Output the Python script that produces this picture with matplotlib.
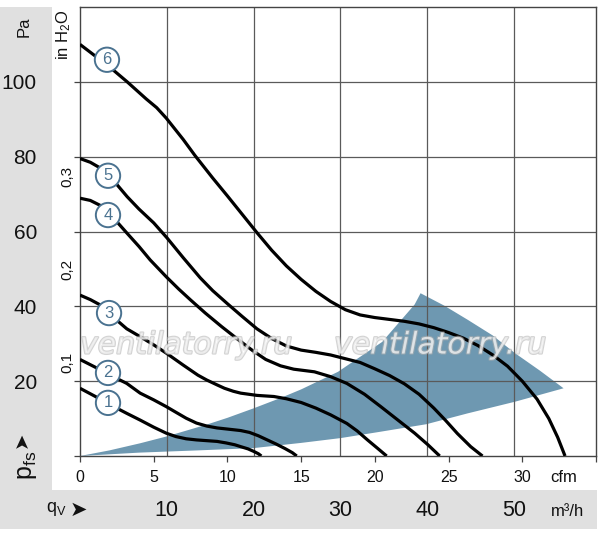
import matplotlib
matplotlib.use('Agg')
import matplotlib.pyplot as plt
from matplotlib import font_manager as fm
import matplotlib.patheffects as pe
import matplotlib.transforms as mtrans
from matplotlib.patches import Rectangle

# ---------------- data ----------------
# pressure curves: q in cfm, p in Pa
c1_q = [0, 1, 2, 3.17, 4.08, 5, 5.85, 6.5, 7.2, 7.9, 8.6, 9.3, 9.9, 10.5, 10.9, 11.4, 11.8, 12.1, 12.3]
c1_p = [18.1, 16, 13.8, 11.4, 9.6, 7.7, 6.1, 5.2, 4.6, 4.3, 4.1, 3.9, 3.5, 3.0, 2.5, 1.9, 1.2, 0.6, 0]

c2_q = [0, 1, 2, 3.17, 4.08, 5, 5.85, 6.5, 7.2, 7.9, 8.6, 9.3, 10, 10.9, 11.5, 12.1, 12.7, 13.3,
        13.9, 14.4, 14.7]
c2_p = [25.8, 23.8, 21.7, 19.4, 16.8, 15, 13.2, 11.7, 10.1, 8.8, 8.0, 7.5, 7.2, 6.8, 6.3, 5.4,
        4.3, 3.2, 2.0, 0.9, 0]

c3_q = [0, 0.7, 1.36, 2.2, 3.17, 4.08, 5, 5.85, 7, 8, 8.6, 9.3, 9.8, 10.4, 10.9, 12, 13.15, 14,
        15, 16, 17, 18.1, 18.8, 19.5, 20.2, 20.8]
c3_p = [43, 41.8, 40.4, 37.3, 34, 31.9, 29.7, 27.5, 24.3, 21.6, 20.3, 19.0, 18.1, 17.3, 16.8,
        16.2, 15.9, 15.3, 14.3, 12.8, 11, 8.7, 6.7, 4.3, 2, 0]

c4_q = [0, 0.7, 1.36, 2.3, 3.2, 4, 4.76, 5.85, 6.7, 7.5, 8.5, 9.6, 10.7, 11.7, 12.6, 13.6,
        14.5, 15.9, 17, 18.1, 19.3, 20.4, 21.5, 22.7, 23.6, 24.4]
c4_p = [68.9, 68.3, 67, 63.5, 59.5, 56, 52.4, 47.9, 44.6, 41.7, 38.2, 34.6, 31.2, 28.2, 25.8,
        24.1, 23.2, 22.5, 21.2, 19.4, 16.5, 13.2, 9.8, 6.1, 3, 0]

c5_q = [0, 0.7, 1.36, 2.3, 3.2, 4, 5, 5.9, 7, 8.16, 9, 10, 11, 12, 13, 14, 15,
        16, 17, 18, 19, 20, 21, 22, 23, 24, 24.8, 25.6, 26.5, 27.3]
c5_p = [79.5, 78.5, 77, 73.5, 69.3, 66, 62.3, 58.3, 53, 47.6, 44.2, 40.7, 37.3, 34.0, 31.4,
        29.4, 28.3, 27.7, 27, 26, 25, 23.3, 21.5, 19.3, 16.5, 12.8, 9.5, 6, 2.5, 0]

c6_q = [0, 1, 2, 3.2, 4.5, 5.2, 5.85, 7, 7.8, 9, 10, 11, 12, 13, 14, 15, 16, 17, 18, 19, 20, 21,
        22, 23, 24, 25, 26, 27, 28, 29, 30, 31, 31.8, 32.4, 32.9]
c6_p = [110, 107, 104, 100, 95.4, 93.1, 90.3, 84.6, 80.3, 74.3, 69.5, 64.6, 59.7, 55, 50.8, 47.2,
        44, 41.3, 39.1, 37.7, 37, 36.5, 36, 35.3, 34.3, 33, 31.5, 29.5, 27, 24, 20, 15.2, 10, 5, 0]

curves_q = [c1_q, c2_q, c3_q, c4_q, c5_q, c6_q]
curves_p = [c1_p, c2_p, c3_p, c4_p, c5_p, c6_p]
curve_names = ['1', '2', '3', '4', '5', '6']
label_q = [1.9, 1.9, 1.97, 1.9, 1.9, 1.83]
label_p = [14.2, 22.2, 38.2, 64.4, 74.9, 105.9]

# operating range (shaded)
area_upper_q = [0, 2, 4.08, 5.85, 8.6, 10, 11.75, 13.6, 15, 17.5, 20.5, 22.7, 23.1]
area_upper_p = [0, 1.5, 3.4, 5.2, 8.4, 10.2, 12.7, 15.5, 17.8, 22.5, 30.5, 40.5, 43.5]
area_arc_q = [24.7, 26.3, 28, 29.5, 31.2, 32.8]
area_arc_p = [40.2, 36.4, 32.2, 27.5, 22.8, 18.1]
area_lower_q = [29.5, 26.3, 23.5, 20.4, 17.7, 15, 11.75, 8, 4, 0]
area_lower_p = [14.5, 11.4, 8.5, 6.5, 4.8, 3.5, 2.1, 1.5, 0.9, 0]

cfm_ticks = [0, 5, 10, 15, 20, 25, 30, 35]
cfm_labels = ['0', '5', '10', '15', '20', '25', '30', '']
m3h_values = [10, 20, 30, 40, 50]
pa_ticks = [0, 20, 40, 60, 80, 100]
pa_labels = ['', '20', '40', '60', '80', '100']
inh2o_values = [0.1, 0.2, 0.3]
inh2o_labels = ['0,1', '0,2', '0,3']

M3H_PER_CFM = 1.699
PA_PER_INH2O = 249.09

# ---------------- style ----------------
names = {f.name for f in fm.fontManager.ttflist}
NARROW = 'Liberation Sans Narrow' if 'Liberation Sans Narrow' in names else 'Liberation Sans'
plt.rcParams['font.family'] = [NARROW, 'DejaVu Sans']
plt.rcParams['mathtext.fontset'] = 'custom'
plt.rcParams['mathtext.rm'] = NARROW
plt.rcParams['mathtext.it'] = NARROW
plt.rcParams['mathtext.bf'] = NARROW

GRAY_BG = '#e0e0e0'
GRID = '#5a5a5a'
BLUE = '#6e98b1'
CIRCLE = '#4a7290'
TXT = '#111111'

W, H = 600, 534
fig = plt.figure(figsize=(W / 100, H / 100), dpi=100)
fig.patch.set_facecolor('white')

def fx(px):
    return px / W

def fy(py):
    return 1 - py / H

fig.patches.append(Rectangle((0, fy(490)), fx(52), fy(7) - fy(490), transform=fig.transFigure,
                             fc=GRAY_BG, ec='none', zorder=-5))
fig.patches.append(Rectangle((0, fy(529)), fx(597), fy(490) - fy(529), transform=fig.transFigure,
                             fc=GRAY_BG, ec='none', zorder=-5))

ax = fig.add_axes([fx(80), fy(456), fx(596) - fx(80), fy(7) - fy(456)])
ax.set_facecolor('white')
ax.set_xlim(0, 35)
ax.set_ylim(0, 120)

# shaded operating area
poly_q = area_upper_q + area_arc_q + area_lower_q
poly_p = area_upper_p + area_arc_p + area_lower_p
ax.fill(poly_q, poly_p, color=BLUE, lw=0, zorder=1)

# grid
for v in m3h_values:
    ax.axvline(v / M3H_PER_CFM, color=GRID, lw=0.9, zorder=2)
for v in pa_ticks[1:]:
    ax.axhline(v, color=GRID, lw=0.9, zorder=2)

# curves
for q, p in zip(curves_q, curves_p):
    ax.plot(q, p, color='black', lw=2.3, zorder=3, solid_joinstyle='round',
            solid_capstyle='butt')

for name, x, y in zip(curve_names, label_q, label_p):
    ax.text(x, y, name, ha='center', va='center', fontsize=12, color=CIRCLE, zorder=6,
            bbox=dict(boxstyle='circle,pad=0.28', fc='white', ec=CIRCLE, lw=1.4))

# spines & ticks
for s in ax.spines.values():
    s.set_color('#444444')
    s.set_linewidth(1.0)
ax.set_xticks(cfm_ticks)
ax.set_xticklabels(cfm_labels, fontsize=11.5, color=TXT)
ax.set_yticks(pa_ticks)
ax.set_yticklabels(pa_labels, fontsize=15, color=TXT)
ax.tick_params(axis='x', direction='out', length=4, width=0.9, color='#444444', pad=6)
ax.tick_params(axis='y', direction='out', length=4, width=0.9, color='#444444', pad=27)

# inch H2O labels
tr_in = mtrans.blended_transform_factory(fig.transFigure, ax.transData)
for v, lab in zip(inh2o_values, inh2o_labels):
    ax.text(fx(67), v * PA_PER_INH2O, lab, rotation=90, ha='center', va='center', fontsize=11,
            transform=tr_in, clip_on=False, color=TXT)
fig.text(fx(64), fy(9), r'$\mathrm{in\ H_2O}$', rotation=90, ha='center', va='top', fontsize=12,
         color=TXT)

# unit texts
fig.text(fx(564), fy(478), 'cfm', ha='center', va='center', fontsize=12, color=TXT)
bt = mtrans.blended_transform_factory(ax.transData, fig.transFigure)
for v in m3h_values:
    ax.text(v / M3H_PER_CFM, fy(510), str(v), transform=bt, ha='center', va='center',
            fontsize=15.5, clip_on=False, color=TXT)
fig.text(fx(568), fy(511), 'm³/h', ha='center', va='center', fontsize=12, color=TXT)
fig.text(fx(56), fy(509), r'$\mathrm{q_V}$', ha='center', va='center', fontsize=13, color=TXT)
fig.text(fx(78), fy(510), '➤', ha='center', va='center', fontsize=15, family=['DejaVu Sans'],
         color=TXT)

fig.text(fx(24), fy(27), 'Pa', rotation=90, ha='center', va='center', fontsize=12, color=TXT)
fig.text(fx(27), fy(465), r'$\mathrm{p_{fs}}$', rotation=90, ha='center', va='center', fontsize=18,
         color=TXT)
fig.text(fx(22), fy(440), '➤', rotation=90, ha='center', va='center', fontsize=14,
         family=['DejaVu Sans'], color=TXT)

# watermark
for cx in (186, 440):
    fig.text(fx(cx), fy(345), 'ventilatorry.ru', ha='center', va='center', fontsize=21.5,
             style='italic', family=['DejaVu Sans'], color='white', alpha=0.55, zorder=10,
             path_effects=[pe.withStroke(linewidth=1.6, foreground='#b0b0b0')])

fig.savefig('out.png', dpi=100, facecolor='white')
